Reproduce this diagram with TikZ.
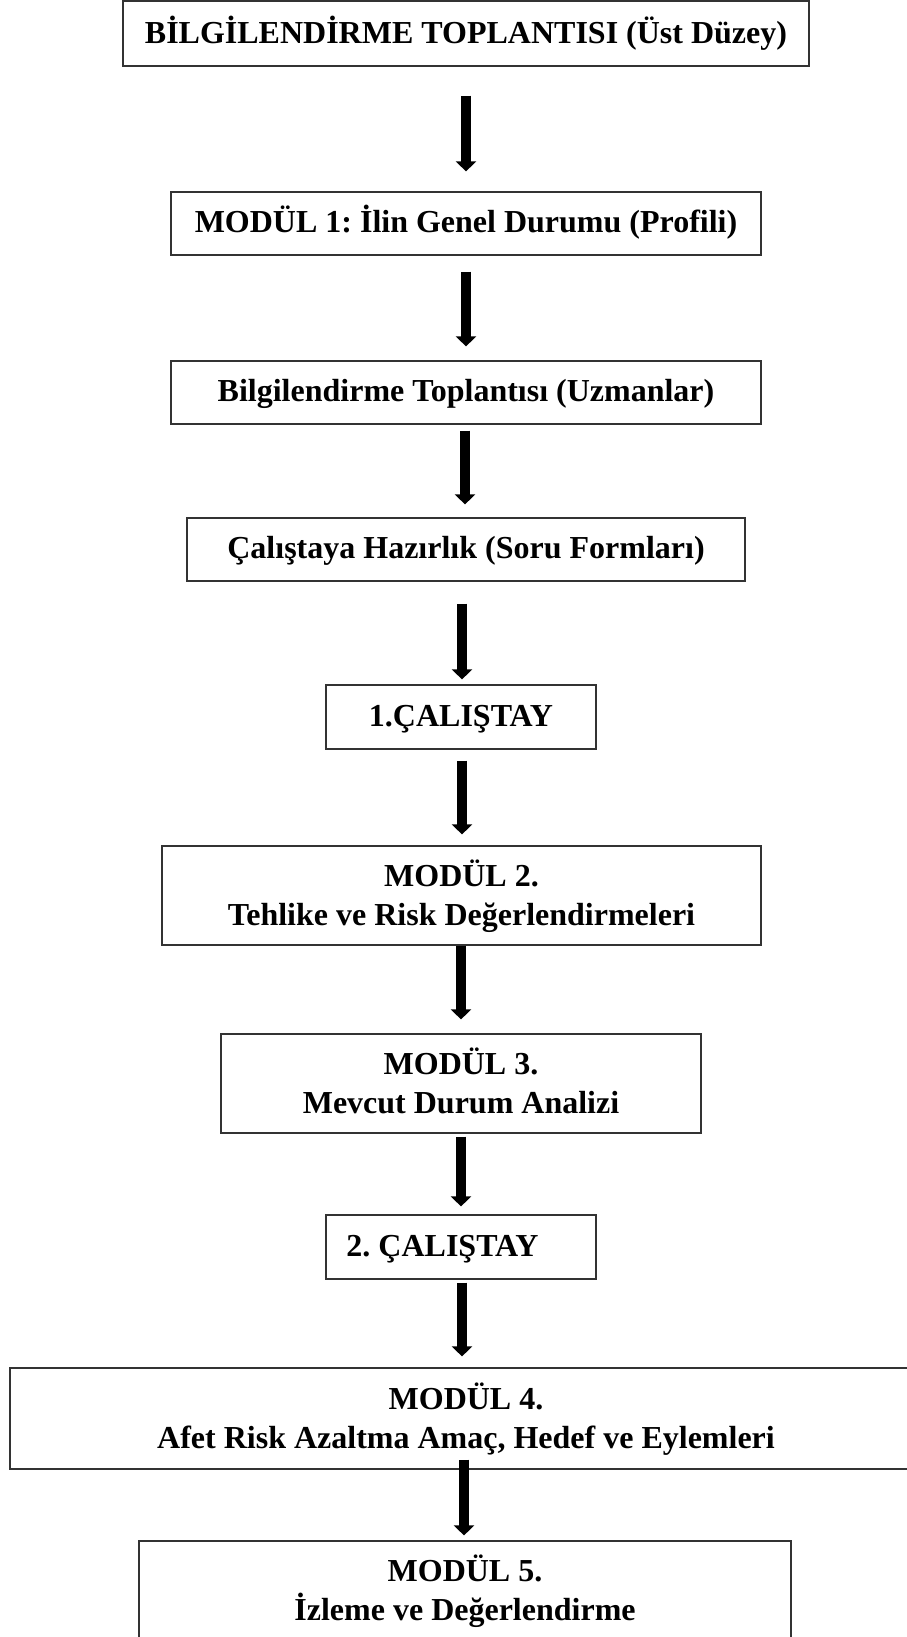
\documentclass[tikz,border=0pt]{standalone}
\usepackage{fontspec}
\setmainfont{Liberation Serif}
\usetikzlibrary{arrows.meta,calc}
\frenchspacing
\newcommand{\lowtxt}[2]{\raisebox{-#1}[\height][\depth]{\begin{tabular}{@{}c@{}}#2\end{tabular}}}
\tikzset{
  box/.style={draw=black!80, line width=1.2pt, inner sep=0pt, align=center,
    font=\fontsize{32}{38.5}\selectfont\bfseries\frenchspacing, text=black},
  arr/.style={line width=10pt, draw=black,
    -{Triangle[width=20pt,length=10pt]}}
}
\begin{document}
\begin{tikzpicture}[x=1pt,y=-1pt]
\useasboundingbox[fill=white] (0,0) rectangle (906,1637);
\node[box, minimum width=686pt, minimum height=65pt] (b1) at (466,33.5) {BİLGİLENDİRME TOPLANTISI (Üst Düzey)};
\node[box, minimum width=590pt, minimum height=63pt] (b2) at (466,223.5) {\lowtxt{1.5pt}{MODÜL 1: İlin Genel Durumu (Profili)}};
\node[box, minimum width=590pt, minimum height=63pt] (b3) at (466,392.5) {\lowtxt{1.5pt}{Bilgilendirme Toplantısı (Uzmanlar)}};
\node[box, minimum width=558pt, minimum height=63pt] (b4) at (466,549.5) {\lowtxt{1.5pt}{Çalıştaya Hazırlık (Soru Formları)}};
\node[box, minimum width=270pt, minimum height=64pt] (b5) at (461,717) {\lowtxt{1.5pt}{1.ÇALIŞTAY}};
\node[box, minimum width=599pt, minimum height=99pt] (b6) at (461.5,895.5) {\lowtxt{3pt}{MODÜL 2.\\Tehlike ve Risk Değerlendirmeleri}};
\node[box, minimum width=480pt, minimum height=99pt] (b7) at (461,1083.5) {\lowtxt{3pt}{MODÜL 3.\\Mevcut Durum Analizi}};
\node[box, minimum width=270pt, minimum height=64pt] (b8) at (461,1247) {\lowtxt{1.5pt}{2. ÇALIŞTAY\hspace*{37pt}}};
\node[box, minimum width=912pt, minimum height=101pt] (b9) at (466,1418.5) {\lowtxt{3pt}{MODÜL 4.\\Afet Risk Azaltma Amaç, Hedef ve Eylemleri}};
\node[box, minimum width=652pt, minimum height=99pt] (b10) at (465,1590.5) {\lowtxt{3pt}{MODÜL 5.\\İzleme ve Değerlendirme}};

\draw[arr, shorten <=29pt, shorten >=20pt] (b1.south -| 466,0) -- (b2.north -| 466,0);
\draw[arr, shorten <=16pt, shorten >=14pt] (b2.south -| 466,0) -- (b3.north -| 466,0);
\draw[arr, shorten <=6pt, shorten >=13pt] (b3.south -| 465,0) -- (b4.north -| 465,0);
\draw[arr, shorten <=22pt, shorten >=5pt] (b4.south -| 462,0) -- (b5.north -| 462,0);
\draw[arr, shorten <=11pt, shorten >=11pt] (b5.south -| 462,0) -- (b6.north -| 462,0);
\draw[arr, shorten <=0pt, shorten >=14pt] (b6.south -| 461,0) -- (b7.north -| 461,0);
\draw[arr, shorten <=3pt, shorten >=8pt] (b7.south -| 461,0) -- (b8.north -| 461,0);
\draw[arr, shorten <=3pt, shorten >=11pt] (b8.south -| 462,0) -- (b9.north -| 462,0);
\draw[arr, shorten <=-10pt, shorten >=5pt] (b9.south -| 464,0) -- (b10.north -| 464,0);
\end{tikzpicture}
\end{document}
